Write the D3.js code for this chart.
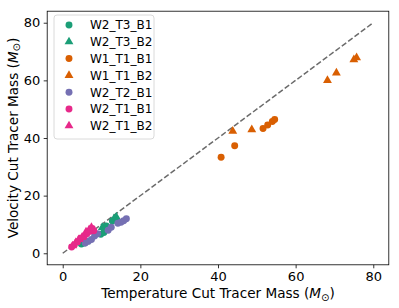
<!DOCTYPE html>
<html>
<head>
<meta charset="utf-8">
<script src="https://cdn.jsdelivr.net/npm/d3@7"></script>
<style>
  body { margin: 0; background: #fff; }
  text { font-family: "DejaVu Sans", sans-serif; fill: #000; }
</style>
</head>
<body>
<script>
// series names, legend order
var seriesNames = ["W2_T3_B1", "W2_T3_B2", "W1_T1_B1", "W1_T1_B2", "W2_T2_B1", "W2_T1_B1", "W2_T1_B2"];
var seriesColors = ["#1b9e77", "#1b9e77", "#d95f02", "#d95f02", "#7570b3", "#e7298a", "#e7298a"];
var seriesShapes = ["circle", "triangle", "circle", "triangle", "circle", "circle", "triangle"];

// temperature cut mass (x) and velocity cut mass (y) per series
var w2t3b1X = [4.8, 5.6, 9.8, 10.6, 11.2, 12.8];
var w2t3b1Y = [3.2, 3.6, 6.6, 7.2, 9.5, 11.2];
var w2t3b2X = [6.0, 10.2, 13.2, 13.8, 14.1];
var w2t3b2Y = [4.0, 9.0, 12.0, 12.6, 11.6];
var w1t1b1X = [40.8, 44.3, 51.6, 52.8, 54.0, 54.6];
var w1t1b1Y = [33.3, 37.3, 43.3, 44.5, 45.7, 46.4];
var w1t1b2X = [43.8, 48.7, 68.2, 70.5, 75.0, 75.7];
var w1t1b2Y = [42.4, 42.9, 60.0, 62.6, 67.2, 67.9];
var w2t2b1X = [5.8, 6.6, 7.4, 8.2, 9.0, 11.7, 12.5, 14.2, 15.0, 15.7, 16.4];
var w2t2b1Y = [3.6, 4.2, 4.8, 6.0, 6.8, 8.0, 9.0, 10.4, 10.8, 11.3, 12.0];
var w2t1b1X = [2.3, 3.0, 3.8, 4.6, 5.5, 6.2, 7.0, 7.6, 8.0];
var w2t1b1Y = [2.2, 3.0, 4.0, 5.2, 5.8, 6.8, 7.6, 8.6, 7.8];
var w2t1b2X = [2.6, 3.4, 4.2, 5.0, 6.0, 6.8, 7.4];
var w2t1b2Y = [2.6, 3.8, 4.8, 5.6, 7.4, 8.2, 9.0];

var seriesX = [w2t3b1X, w2t3b2X, w1t1b1X, w1t1b2X, w2t2b1X, w2t1b1X, w2t1b2X];
var seriesY = [w2t3b1Y, w2t3b2Y, w1t1b1Y, w1t1b2Y, w2t2b1Y, w2t1b1Y, w2t1b2Y];

var ticks = [0, 20, 40, 60, 80];
var oneToOne = [0, 80];

var width = 399, height = 308;
var plotLeft = 47.2, plotRight = 388.8, plotTop = 11.2, plotBottom = 264.8;

var svg = d3.select("body").append("svg")
    .attr("width", width)
    .attr("height", height);

var x = d3.scaleLinear().domain([-4, 84]).range([plotLeft, plotRight]);
var y = d3.scaleLinear().domain([-4, 84]).range([plotBottom, plotTop]);

//one-to-one dashed line
svg.append("line")
    .attr("x1", x(oneToOne[0])).attr("y1", y(oneToOne[0]))
    .attr("x2", x(oneToOne[1])).attr("y2", y(oneToOne[1]))
    .attr("stroke", "#6b6b6b")
    .attr("stroke-width", 1.5)
    .attr("stroke-dasharray", "5.5,2.4");

var circleSym = d3.symbol().type(d3.symbolCircle).size(38);
var triSym = d3.symbol().type(d3.symbolTriangle).size(34);

//points
seriesNames.forEach(function(name, i) {
    var pts = seriesX[i].map(function(v, j) { return [v, seriesY[i][j]]; });
    svg.append("g").selectAll("path")
        .data(pts)
        .enter()
        .append("path")
        .attr("d", seriesShapes[i] == "circle" ? circleSym : triSym)
        .attr("transform", function(d) { return "translate(" + x(d[0]) + "," + y(d[1]) + ")"; })
        .attr("fill", seriesColors[i]);
});

//axes
var xAxis = svg.append("g")
    .attr("transform", "translate(0," + plotBottom + ")")
    .call(d3.axisBottom(x).tickValues(ticks).tickSize(3.5).tickPadding(3.5));
var yAxis = svg.append("g")
    .attr("transform", "translate(" + plotLeft + ",0)")
    .call(d3.axisLeft(y).tickValues(ticks).tickSize(3.5).tickPadding(3.5));
[xAxis, yAxis].forEach(function(a) {
    a.select(".domain").remove();
    a.selectAll("line").attr("stroke", "#000").attr("stroke-width", 0.8);
    a.selectAll("text").style("font-family", "DejaVu Sans").style("font-size", "13px").attr("fill", "#000");
});

//frame
svg.append("rect")
    .attr("x", plotLeft).attr("y", plotTop)
    .attr("width", plotRight - plotLeft).attr("height", plotBottom - plotTop)
    .attr("fill", "none").attr("stroke", "#000").attr("stroke-width", 0.8);

//axis labels
var xl = svg.append("text")
    .attr("x", (plotLeft + plotRight) / 2).attr("y", 298)
    .attr("text-anchor", "middle")
    .style("font-size", "13.6px");
xl.append("tspan").text("Temperature Cut Tracer Mass (");
xl.append("tspan").style("font-style", "italic").text("M");
xl.append("tspan").attr("dy", 2.5).style("font-size", "10px").text("⊙");
xl.append("tspan").attr("dy", -2.5).text(")");

var yl = svg.append("text")
    .attr("transform", "translate(17.5," + (plotTop + plotBottom) / 2 + ") rotate(-90)")
    .attr("text-anchor", "middle")
    .style("font-size", "13.6px");
yl.append("tspan").text("Velocity Cut Tracer Mass (");
yl.append("tspan").style("font-style", "italic").text("M");
yl.append("tspan").attr("dy", 2.5).style("font-size", "10px").text("⊙");
yl.append("tspan").attr("dy", -2.5).text(")");

//legend
var legend = svg.append("g");
legend.append("rect")
    .attr("x", 54).attr("y", 15)
    .attr("width", 100).attr("height", 124)
    .attr("rx", 3)
    .attr("fill", "#fff").attr("fill-opacity", 0.8)
    .attr("stroke", "#d0d0d0").attr("stroke-width", 0.8);

var items = legend.selectAll("g.item")
    .data(seriesNames)
    .enter()
    .append("g")
    .attr("class", "item")
    .attr("transform", function(d, i) { return "translate(69," + (25 + i * 16.8) + ")"; });
items.append("path")
    .attr("d", function(d, i) { return seriesShapes[i] == "circle" ? circleSym() : triSym(); })
    .attr("fill", function(d, i) { return seriesColors[i]; });
items.append("text")
    .attr("x", 21).attr("y", 4.3)
    .style("font-size", "12px")
    .text(function(d) { return d; });
</script>
</body>
</html>
